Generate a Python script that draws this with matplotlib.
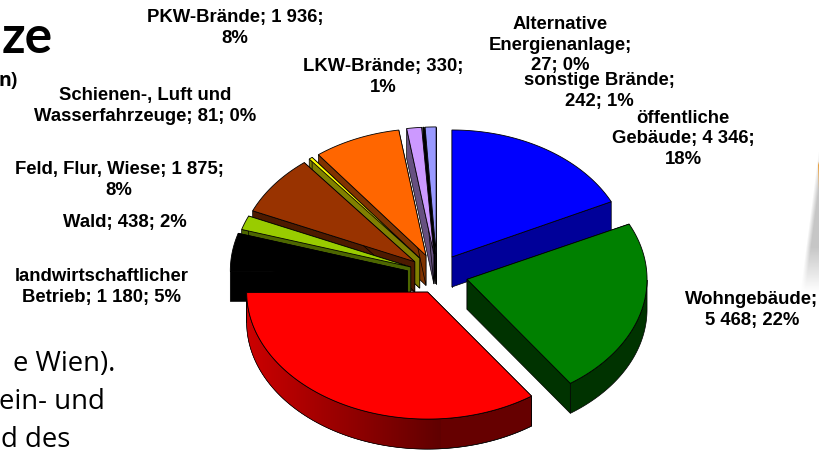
import matplotlib
matplotlib.use('Agg')
import matplotlib.pyplot as plt
import numpy as np
from matplotlib.patches import Polygon
from matplotlib.colors import LinearSegmentedColormap

# Werte (Rot hat kein Label, geschaetzt)
kategorien = ['öffentliche Gebäude', 'Wohngebäude', 'rot', 'landwirtschaftlicher Betrieb', 'Wald',
              'Feld, Flur, Wiese', 'Schienen-, Luft und Wasserfahrzeuge', 'PKW-Brände', 'LKW-Brände',
              'Alternative Energieanlage', 'sonstige Brände']
werte = [4346, 5468, 8447, 1180, 438, 1875, 81, 1936, 330, 27, 242]
beschriftung = ['öffentliche\nGebäude; 4 346;\n18%', 'Wohngebäude;\n5 468; 22%', None,
                'landwirtschaftlicher\nBetrieb; 1 180; 5%', 'Wald; 438; 2%',
                'Feld, Flur, Wiese; 1 875;\n8%', 'Schienen-, Luft und\nWasserfahrzeuge; 81; 0%',
                'PKW-Brände; 1 936;\n8%', 'LKW-Brände; 330;\n1%',
                'Alternative\nEnergienanlage;\n27; 0%', 'sonstige Brände;\n242; 1%']

# Stil: Position der Labels, Farben, Explosion
label_pos = [(683, 139), (752, 310), None, (102, 287), (125, 222), (119, 180), (145, 106),
             (235, 28), (383, 77), (560, 45), (599, 91)]
oben = ['#0000ff', '#008000', '#ff0000', '#000000', '#99cc00', '#993300', '#ffff00',
        '#ff6600', '#cc99ff', '#000000', '#9999ff']
seite = ['#000099', '#003300', '#660000', '#000000', '#4d6600', '#4d1a00', '#808000',
         '#803300', '#665080', '#000000', '#4d4d80']
explode = [28, 30, 29, 30, 28, 28, 28, 28, 28, 28, 28]
radius_x = [177, 180, 181, 177, 177, 177, 177, 177, 177, 177, 177]
versatz_x = [0, 1, 4, 0, 0, 0, 0, 0, 0, 0, 0]

cx, cy = 437, 274
ry = 127
tiefe = 30

fig = plt.figure(figsize=(8.2, 4.53), dpi=100)
ax = fig.add_axes([0, 0, 1, 1])
ax.axis('off')

# Textreste der Folie
ax.text(53, 53, 'ze', ha='right', va='baseline', fontsize=37, fontweight='bold', family='Lato')
ax.text(18, 86, 'n)', ha='right', va='baseline', fontsize=14, fontweight='bold', family='Open Sans')
for t, r, b in [('e Wien).', 115, 371), ('ein- und', 105, 409), ('d des', 70, 447)]:
    ax.text(r, b, t, ha='right', va='baseline', fontsize=19.8, family='Open Sans')

# Schatten rechts
xx, yy = np.meshgrid(np.arange(790, 820) + 0.5, np.arange(140, 300) + 0.5)
kante = 820 - (yy - 140) * 0.13
alpha = np.clip((xx - kante) / 5, 0, 1) * np.clip((292 - yy) / 45, 0, 1) * np.clip((yy - 140) / 15, 0, 1)
schatten = np.zeros(xx.shape + (4,))
schatten[..., :3] = 0.78
schatten[..., 3] = alpha
ax.imshow(schatten, extent=(790, 820, 300, 140), zorder=1, aspect='auto')
ax.add_patch(Polygon([(820, 158), (818, 165), (819, 190), (820, 194)], fc='#e8a040', ec='none', zorder=1.5))

winkel = np.cumsum([0] + werte) / np.sum(werte) * 360
mitte = (winkel[:-1] + winkel[1:]) / 2
rot_verlauf = LinearSegmentedColormap.from_list('rot', ['#cc0000', '#600000'])

z = 2
# von hinten nach vorne zeichnen
for i in np.argsort(-np.cos(np.radians(mitte))):
    a0, a1 = winkel[i], winkel[i + 1]
    m = np.radians(mitte[i])
    rx = radius_x[i]
    x0 = cx + explode[i] * np.sin(m) + versatz_x[i]
    y0 = cy - explode[i] * np.cos(m) * ry / rx
    s = seite[i]
    schritte = np.radians(np.linspace(a0, a1, max(int(a1 - a0) * 2 + 2, 2)))
    px = x0 + rx * np.sin(schritte)
    py = y0 - ry * np.cos(schritte)
    # radiale Waende
    for k in (0, -1):
        ax.add_patch(Polygon([(x0, y0), (px[k], py[k]), (px[k], py[k] + tiefe), (x0, y0 + tiefe)],
                             fc=s, ec='black', lw=0.5, zorder=z))
    # aeussere Wand, nur der vordere Teil ist sichtbar
    vorne = np.cos(schritte) < 0
    if vorne.sum() > 1:
        vx, vy = px[vorne], py[vorne]
        wand = list(zip(vx, vy)) + list(zip(vx[::-1], vy[::-1] + tiefe))
        ax.add_patch(Polygon(wand, fc=s, ec='black', lw=0.5, zorder=z + 0.1))
        if i == 2:
            # rot hat einen Verlauf
            bild = ax.imshow(np.linspace(0, 1, 256).reshape(1, -1), cmap=rot_verlauf, aspect='auto',
                             extent=(px.min(), 440, py.max() + tiefe, py.min()), zorder=z + 0.2)
            bild.set_clip_path(Polygon(wand, transform=ax.transData))
            ax.add_patch(Polygon(wand, fc='none', ec='black', lw=0.4, zorder=z + 0.3))
    # Deckel
    ax.add_patch(Polygon([(x0, y0)] + list(zip(px, py)), fc=oben[i], ec='black', lw=0.6, zorder=z + 0.5))
    z += 1

for b, p in zip(beschriftung, label_pos):
    if b:
        ax.text(p[0], p[1], b, ha='center', va='center', fontsize=13.3, fontweight='bold',
                family='Liberation Sans', linespacing=1.27, zorder=50)

ax.set_xlim(0, 820)
ax.set_ylim(453, 0)
fig.savefig('out.png', dpi=100)
